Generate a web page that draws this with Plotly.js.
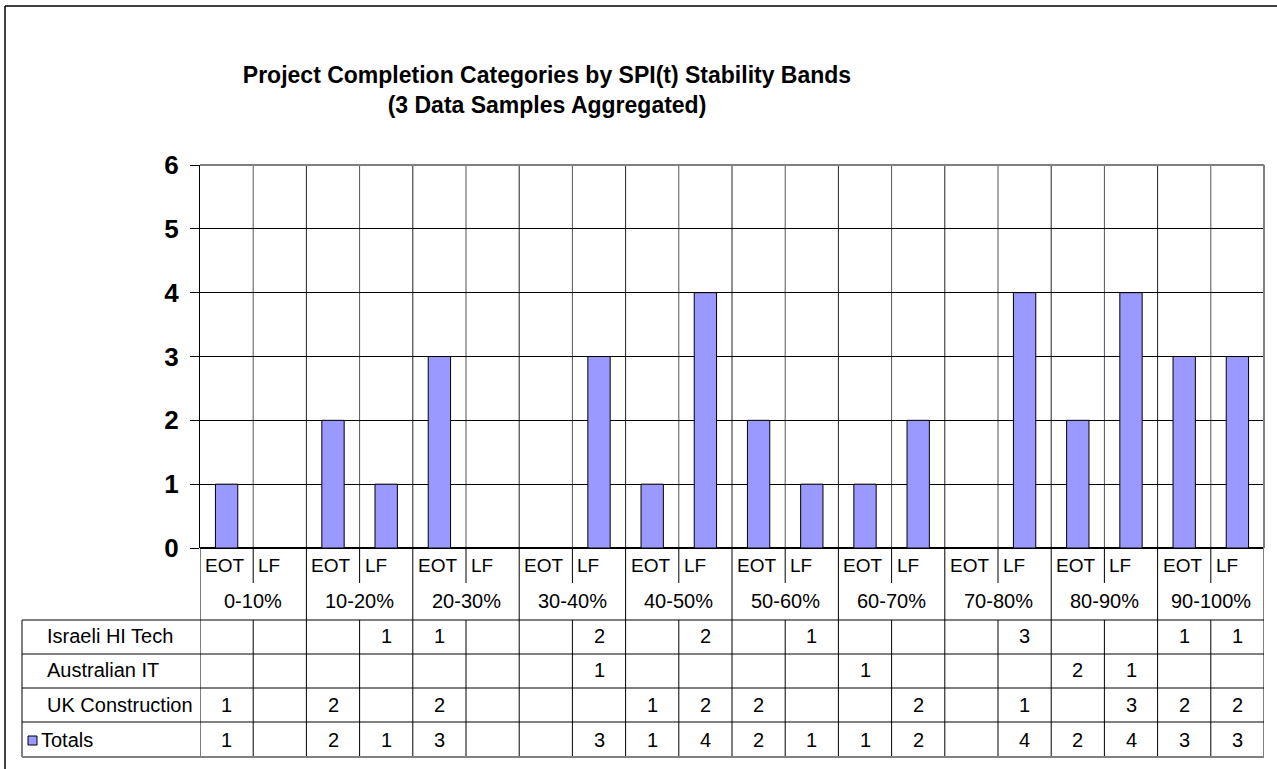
<!DOCTYPE html>
<html>
<head>
<meta charset="utf-8">
<script src="https://cdn.plot.ly/plotly-3.0.1.min.js"></script>
<style>html,body{margin:0;padding:0;background:#fff;}#chart{width:1277px;height:769px;}</style>
</head>
<body>
<div id="chart"></div>
<script>
// ---- data ----
var bands = ['0-10%','10-20%','20-30%','30-40%','40-50%','50-60%','60-70%','70-80%','80-90%','90-100%'];
var subCats = ['EOT','LF'];
var rowNames = ['Israeli HI Tech','Australian IT','UK Construction','Totals'];
var israeliHiTech   = [null,null,null,1,1,null,null,2,null,2,null,1,null,null,null,3,null,null,1,1];
var australianIT    = [null,null,null,null,null,null,null,1,null,null,null,null,1,null,null,null,2,1,null,null];
var ukConstruction  = [1,null,2,null,2,null,null,null,1,2,2,null,null,2,null,1,null,3,2,2];
var totals          = [1,null,2,1,3,null,null,3,1,4,2,1,1,2,null,4,2,4,3,3];
var yTicks = [0,1,2,3,4,5,6];

// ---- layout geometry (pixels) ----
var W = 1277, H = 769;
var PL = 200, PR = 1264, PT = 165, PB = 548;
var FONT = 'Liberation Sans, Arial, sans-serif';
function py(p){ return (PB - p) / (PB - PT); }      // pixel y -> paper y
function px(p){ return (p - PL) / (PR - PL); }      // pixel x -> paper x

var n = bands.length * subCats.length;
var xIdx = [], xLabels = [];
for (var b = 0; b < bands.length; b++) for (var s = 0; s < subCats.length; s++) { xIdx.push(b*2+s); xLabels.push(subCats[s]); }

var shapes = [], annotations = [];
var LINE = {color:'#000', width:1};
var GRID = {color:'#222', width:1};

// outer chart border
shapes.push({type:'line', xref:'paper', yref:'paper', x0:px(5), x1:px(1300), y0:py(6), y1:py(6), line:{color:'#404040', width:2}});
shapes.push({type:'line', xref:'paper', yref:'paper', x0:px(5), x1:px(5), y0:py(6), y1:py(800), line:{color:'#000', width:1.5}});

// vertical gridlines / table columns
for (var i = 0; i <= n; i++) {
  var xv = i - 0.5;
  var pair = (i % 2 === 0);
  if (i > 0 && i < n) shapes.push({type:'line', xref:'x', yref:'paper', x0:xv, x1:xv, y0:0, y1:1, line:(pair?GRID:{color:'#555',width:1}), layer:'below'});
  var yBot = pair ? py(620) : py(583);
  shapes.push({type:'line', xref:'x', yref:'paper', x0:xv, x1:xv, y0:0, y1:yBot, line: (i===n? {color:'#808080',width:2}:LINE)});
  shapes.push({type:'line', xref:'x', yref:'paper', x0:xv, x1:xv, y0:py(620), y1:py(757), line: (i===n? {color:'#808080',width:2}:LINE)});
}
// right and top border of plot
shapes.push({type:'line', xref:'paper', yref:'paper', x0:1, x1:1, y0:0, y1:1, line:{color:'#808080', width:2}});
shapes.push({type:'line', xref:'paper', yref:'paper', x0:0, x1:1, y0:1, y1:1, line:{color:'#808080', width:2}});
// table left edge
shapes.push({type:'line', xref:'paper', yref:'paper', x0:px(22), x1:px(22), y0:py(620), y1:py(757), line:LINE});
// table rows
var rowLines = [620, 654, 688, 722, 757];
rowLines.forEach(function(r, k){
  shapes.push({type:'line', xref:'paper', yref:'paper', x0:px(22), x1:1, y0:py(r), y1:py(r), line:(k===rowLines.length-1?{color:'#808080',width:2}:LINE)});
});
// legend key for Totals
shapes.push({type:'rect', xref:'paper', yref:'paper', x0:px(28), x1:px(37), y0:py(745), y1:py(736), fillcolor:'#9999FF', line:{color:'#000', width:1}});

// sub-category labels and band labels
for (var j = 0; j < n; j++) {
  annotations.push({xref:'x', yref:'paper', x:j-0.5, y:py(565), text:xLabels[j], showarrow:false, xanchor:'left', yanchor:'middle', xshift:3, font:{family:FONT, size:19, color:'#000'}});
}
for (var b2 = 0; b2 < bands.length; b2++) {
  annotations.push({xref:'x', yref:'paper', x:b2*2+0.5, y:py(601), text:bands[b2], showarrow:false, xanchor:'center', yanchor:'middle', font:{family:FONT, size:20, color:'#000'}});
}
// table content
var rows = [israeliHiTech, australianIT, ukConstruction, totals];
var rowCenters = [636, 670, 705, 740];
for (var r = 0; r < rows.length; r++) {
  annotations.push({xref:'paper', yref:'paper', x:px(r===3?39:45), y:py(rowCenters[r]), text:rowNames[r], showarrow:false, xanchor:'left', yanchor:'middle', font:{family:FONT, size:20, color:'#000'}});
  for (var c = 0; c < n; c++) {
    if (rows[r][c] !== null) annotations.push({xref:'x', yref:'paper', x:xIdx[c], y:py(rowCenters[r]), text:String(rows[r][c]), showarrow:false, xanchor:'center', yanchor:'middle', font:{family:FONT, size:20, color:'#000'}});
  }
}

var trace = {
  type:'bar', x:xIdx, y:totals, width:0.42, name:'Totals',
  marker:{color:'#9999FF', line:{color:'#000', width:1}},
  hoverinfo:'y'
};

var layout = {
  width:W, height:H,
  margin:{l:PL, r:W-PR, t:PT, b:H-PB, pad:0},
  paper_bgcolor:'#fff', plot_bgcolor:'#fff',
  showlegend:false,
  title:{text:'<b>Project Completion Categories by SPI(t) Stability Bands<br>(3 Data Samples Aggregated)</b>',
         font:{family:FONT, size:23, color:'#000'}, xref:'container', x:547/W, xanchor:'center',
         yref:'container', y:1-83/H, yanchor:'middle'},
  xaxis:{range:[-0.5, n-0.5], showticklabels:false, ticks:'', showgrid:false, zeroline:false, showline:false, fixedrange:true},
  yaxis:{range:[0,6], tickvals:yTicks, ticktext:yTicks.map(String), ticks:'outside', ticklen:9, tickcolor:'#000', tickwidth:1,
         showgrid:true, gridcolor:'#000', gridwidth:1, zeroline:true, zerolinecolor:'#000', zerolinewidth:1.5,
         showline:true, linecolor:'#000', linewidth:1, ticklabelstandoff:6,
         tickfont:{family:FONT, size:26, color:'#000', weight:'bold'}, fixedrange:true},
  bargap:0.58,
  shapes:shapes, annotations:annotations
};

Plotly.newPlot('chart', [trace], layout, {displayModeBar:false, staticPlot:true});
</script>
</body>
</html>
